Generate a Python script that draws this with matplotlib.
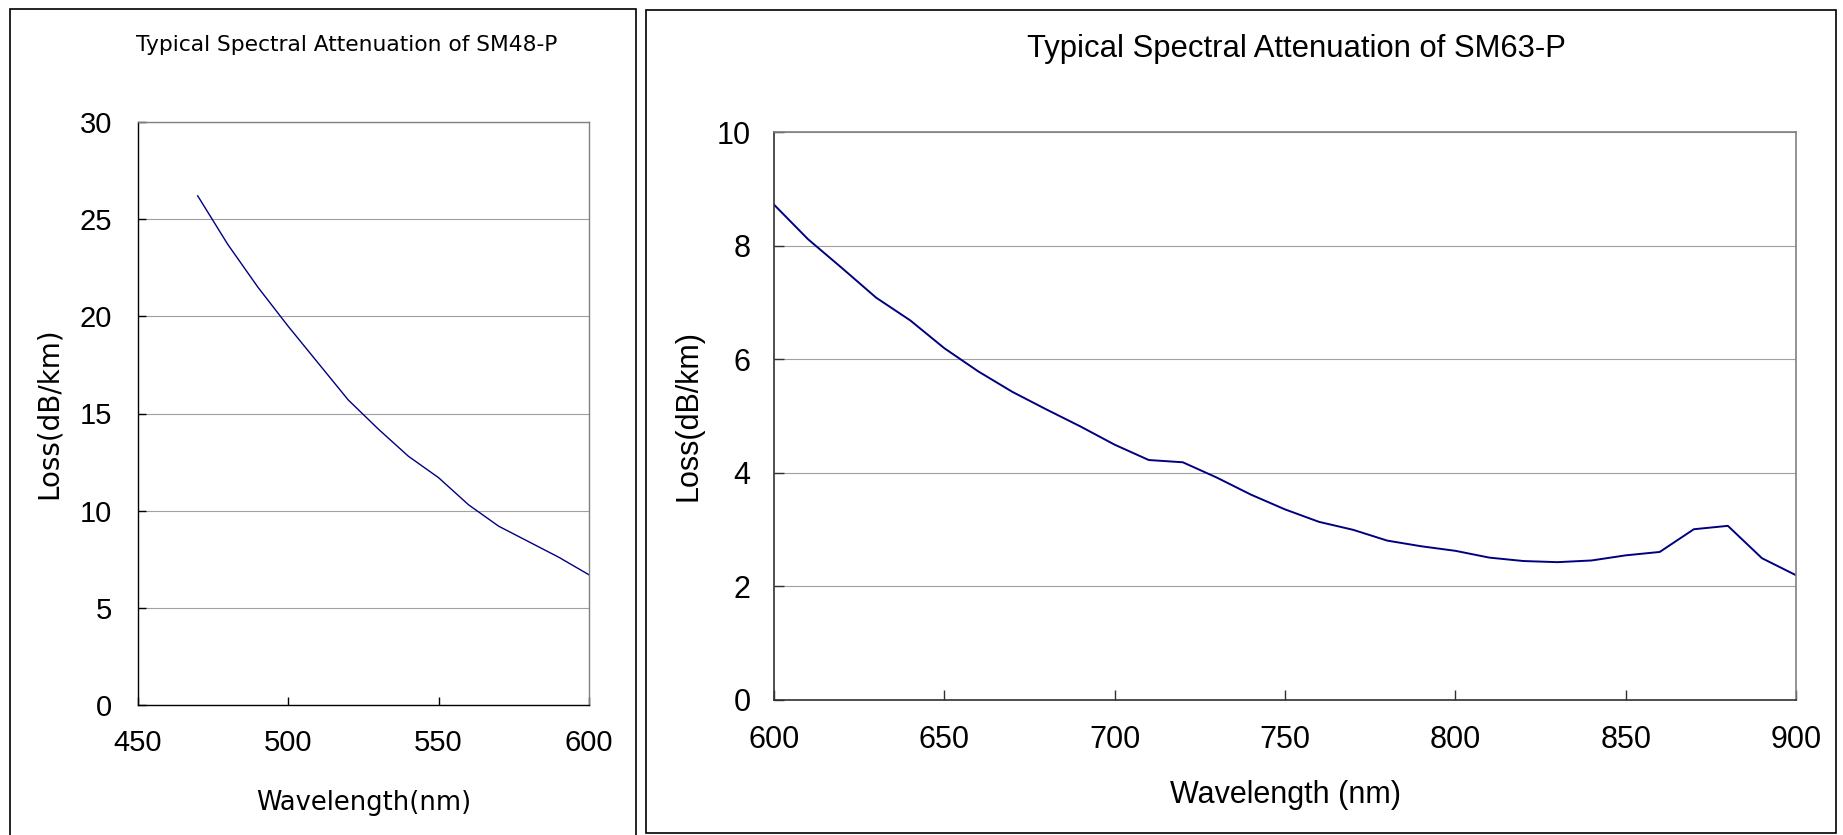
import matplotlib
matplotlib.use("Agg")
import matplotlib.pyplot as plt
from matplotlib.patches import Rectangle

W, H = 1843, 835

# ---- data ----
sm48_wavelength = [470, 480, 490, 500, 510, 520, 530, 540, 550, 560, 570, 580, 590, 600]
sm48_loss = [26.2, 23.7, 21.5, 19.5, 17.6, 15.7, 14.2, 12.8, 11.7, 10.3, 9.2, 8.4, 7.6, 6.7]

sm63_wavelength = [600, 610, 620, 630, 640, 650, 660, 670, 680, 690, 700, 710, 720, 730,
                   740, 750, 760, 770, 780, 790, 800, 810, 820, 830, 840, 850, 860, 870,
                   880, 890, 900]
sm63_loss = [8.72, 8.11, 7.6, 7.08, 6.68, 6.19, 5.78, 5.42, 5.11, 4.81, 4.49, 4.22, 4.18, 3.91,
             3.61, 3.35, 3.13, 2.99, 2.80, 2.70, 2.62, 2.50, 2.44, 2.42, 2.45, 2.54, 2.60, 3.00,
             3.06, 2.49, 2.19]

left_title = "Typical Spectral Attenuation of SM48-P"
right_title = "Typical Spectral Attenuation of SM63-P"
left_xlabel = "Wavelength(nm)"
right_xlabel = "Wavelength (nm)"
ylabel = "Loss(dB/km)"
left_yticks = [0, 5, 10, 15, 20, 25, 30]
left_xticks = [450, 500, 550, 600]
right_yticks = [0, 2, 4, 6, 8, 10]
right_xticks = [600, 650, 700, 750, 800, 850, 900]

wide = 'DejaVu Sans'
regular = 'Liberation Sans'

LINE = '#000080'
GRID = '#a0a0a0'


def px_axes(fig, x0, y0, x1, y1):
    return fig.add_axes([x0 / W, 1 - y1 / H, (x1 - x0) / W, (y1 - y0) / H])


fig = plt.figure(figsize=(W / 100, H / 100), dpi=100)
fig.patch.set_facecolor('white')

# panel borders
fig.patches.append(Rectangle((10 / W, -0.05), (636 - 10) / W, 1 - 9 / H + 0.05,
                             transform=fig.transFigure, fill=False, ec='black', lw=1.2))
fig.patches.append(Rectangle((646 / W, 1 - 833 / H), (1836 - 646) / W, (833 - 10) / H,
                             transform=fig.transFigure, fill=False, ec='black', lw=1.2))

# ---- left chart ----
ax1 = px_axes(fig, 137.5, 122, 589, 705)
ax1.plot(sm48_wavelength, sm48_loss, color=LINE, lw=1.0)
ax1.set_xlim(450, 600)
ax1.set_ylim(0, 30)
ax1.set_xticks(left_xticks)
ax1.set_yticks(left_yticks)
ax1.yaxis.grid(True, color=GRID, lw=0.8)
ax1.set_axisbelow(True)
for s in ['top', 'right']:
    ax1.spines[s].set_color('#808080')
for s in ['left', 'bottom']:
    ax1.spines[s].set_color('black')
for s in ax1.spines.values():
    s.set_linewidth(1.0)
ax1.tick_params(axis='both', direction='in', length=6, width=1, color='black',
                labelsize=21, labelfontfamily=regular)
ax1.tick_params(axis='y', pad=18.5)
ax1.tick_params(axis='x', pad=17)
ax1.set_xlabel(left_xlabel, family=wide, fontsize=18.5, va='center')
ax1.set_ylabel(ylabel, family=wide, fontsize=20, va='center')
ax1.xaxis.set_label_coords(0.5, (705 - 803) / 583)
ax1.yaxis.set_label_coords((49 - 137.5) / 451.5, 0.5)
fig.text(347 / W, 1 - 45 / H, left_title, ha='center', va='center', family=wide, fontsize=15.7)

# ---- right chart ----
ax2 = px_axes(fig, 774, 132, 1796, 699.5)
ax2.plot(sm63_wavelength, sm63_loss, color=LINE, lw=1.4)
ax2.set_xlim(600, 900)
ax2.set_ylim(0, 10)
ax2.set_xticks(right_xticks)
ax2.set_yticks(right_yticks)
ax2.yaxis.grid(True, color=GRID, lw=0.8)
ax2.set_axisbelow(True)
for s in ['top', 'right']:
    ax2.spines[s].set_color('#808080')
for s in ['left', 'bottom']:
    ax2.spines[s].set_color('#303030')
for s in ax2.spines.values():
    s.set_linewidth(1.2)
ax2.tick_params(axis='both', direction='in', length=7, width=1, color='#303030',
                labelsize=22, labelfontfamily=regular)
ax2.tick_params(axis='y', pad=17)
ax2.tick_params(axis='x', pad=18)
ax2.set_xlabel(right_xlabel, family=regular, fontsize=22, va='center')
ax2.set_ylabel(ylabel, family=regular, fontsize=22, va='center')
ax2.xaxis.set_label_coords(0.5, (699.5 - 795) / 567.5)
ax2.yaxis.set_label_coords((688 - 774) / 1022, 0.5)
fig.text(1296 / W, 1 - 49 / H, right_title, ha='center', va='center', family=regular, fontsize=22.3)

fig.savefig('out.png', dpi=100)
